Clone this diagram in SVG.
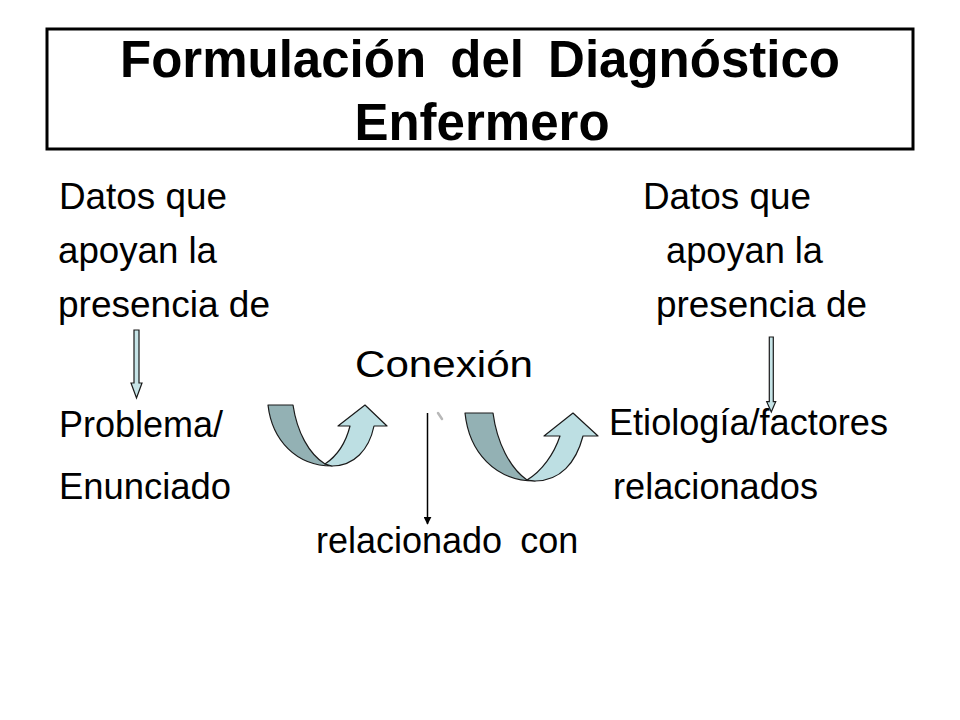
<svg xmlns="http://www.w3.org/2000/svg" width="960" height="720" viewBox="0 0 960 720">
<defs>
<style>
.t{font-family:"Liberation Sans",Arial,sans-serif;fill:#000}
.b{font-size:36px}
.h{font-size:51px;font-weight:bold}
.dark{fill:#93b1b4;stroke:#1a1a1a;stroke-width:1.2;stroke-linejoin:round}
.light{fill:#bddfe3;stroke:#1a1a1a;stroke-width:1.2;stroke-linejoin:round}
.blk{fill:#c6e4e7;stroke:#1a1a1a;stroke-width:1.2}
</style>
<marker id="ah" viewBox="0 0 10 10" refX="9" refY="5" markerWidth="8" markerHeight="8" markerUnits="userSpaceOnUse" orient="auto">
<path d="M0,0 L10,5 L0,10 Z" fill="#000"/>
</marker>
</defs>
<rect width="960" height="720" fill="#fff"/>
<g id="title">
<rect x="47" y="29" width="866" height="120" fill="none" stroke="#000" stroke-width="3"/>
<text class="t h" x="480" y="77" text-anchor="middle" word-spacing="10">Formulación del Diagnóstico</text>
<text class="t h" x="482" y="140" text-anchor="middle">Enfermero</text>
</g>
<g id="datos-izq">
<text class="t b" x="59" y="209" textLength="168" lengthAdjust="spacingAndGlyphs">Datos que</text>
<text class="t b" x="58" y="263" textLength="159" lengthAdjust="spacingAndGlyphs">apoyan la</text>
<text class="t b" x="58" y="317" textLength="212" lengthAdjust="spacingAndGlyphs">presencia de</text>
</g>
<g id="datos-der">
<text class="t b" x="643" y="209" textLength="168" lengthAdjust="spacingAndGlyphs">Datos que</text>
<text class="t b" x="666" y="263" textLength="157" lengthAdjust="spacingAndGlyphs">apoyan la</text>
<text class="t b" x="656" y="317" textLength="211" lengthAdjust="spacingAndGlyphs">presencia de</text>
</g>
<g id="conexion">
<text class="t b" x="355" y="377" textLength="178" lengthAdjust="spacingAndGlyphs">Conexión</text>
</g>
<g id="problema">
<text class="t b" x="59" y="437" textLength="164" lengthAdjust="spacingAndGlyphs">Problema/</text>
<text class="t b" x="59" y="499" textLength="172" lengthAdjust="spacingAndGlyphs">Enunciado</text>
</g>
<g id="etiologia">
<text class="t b" x="609" y="435" textLength="279" lengthAdjust="spacingAndGlyphs">Etiología/factores</text>
<text class="t b" x="613" y="499" textLength="205" lengthAdjust="spacingAndGlyphs">relacionados</text>
</g>
<g id="relacionado">
<text class="t b" x="316" y="553" word-spacing="8">relacionado con</text>
</g>
<g id="connectors">
<path class="blk" d="M134,330 L139,330 L139,383 L142,383 L136.5,398 L131,383 L134,383 Z"/>
<path class="blk" d="M769.3,337 L773.3,337 L773.3,401.7 L775.7,401.7 L771.3,412 L766.7,401.7 L769.3,401.7 Z"/>
<path class="dark" d="M268,405 L293,405 C297,432 309,454 325,464 L332,466 C296,466 272,440 268,405 Z"/>
<path class="light" d="M325,464 C337,456 346,442 350,426 L338,426 L365,405 L387,426 L374,426 C369,450 354,466 332,466 Z"/>
<path class="dark" d="M465,413 L493,413 C497,443 510,468 527,480 L535,481 C495,481 469,452 465,413 Z"/>
<path class="light" d="M527,480 C542,471 554,454 560,436 L544,436 L573,413 L598,436 L583,436 C576,463 560,481 535,481 Z"/>
<line x1="427.5" y1="413" x2="427.5" y2="524" stroke="#000" stroke-width="1.5" marker-end="url(#ah)"/>
<line x1="438" y1="413" x2="442" y2="419" stroke="#b8b8b8" stroke-width="2.5" stroke-linecap="round"/>
</g>
</svg>
